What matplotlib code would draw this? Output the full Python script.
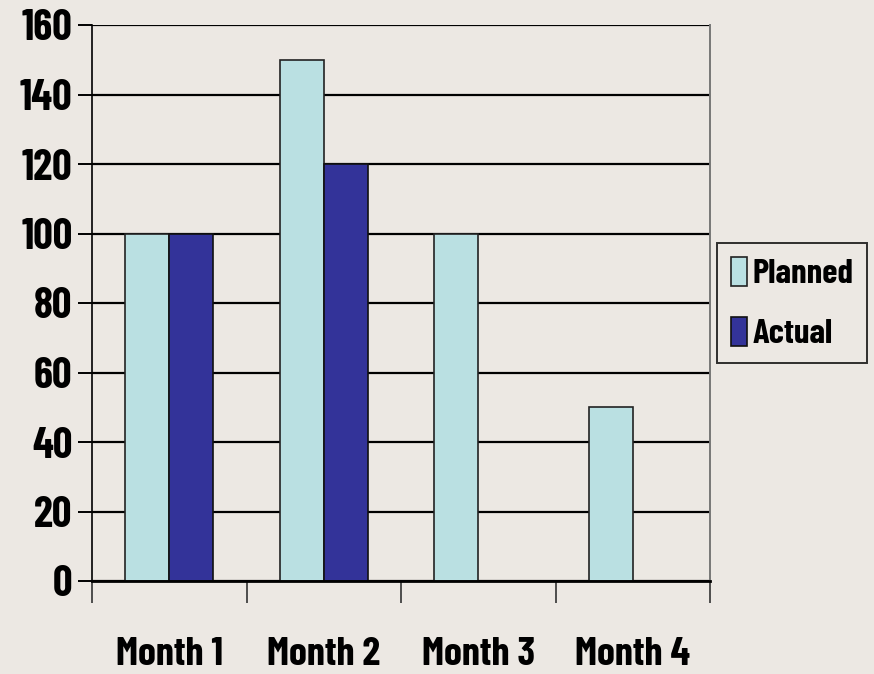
import matplotlib
matplotlib.use("Agg")
import matplotlib.pyplot as plt
import numpy as np

months = ["Month 1", "Month 2", "Month 3", "Month 4"]
planned = [100, 150, 100, 50]
actual = [100, 120, 0, 0]
yticks = [0, 20, 40, 60, 80, 100, 120, 140, 160]

bg = "#ECE8E3"
plt.rcParams['font.family'] = ['Barlow Condensed', 'Roboto Condensed', 'DejaVu Sans']
plt.rcParams['font.weight'] = 'bold'

fig = plt.figure(figsize=(8.74, 6.74), dpi=100, facecolor=bg)
ax = fig.add_axes([92/874, 1 - 581/674, (710 - 92)/874, (581 - 25)/674])
ax.set_facecolor(bg)

x = np.arange(len(months))
w = 0.285
ax.set_axisbelow(True)
ax.yaxis.grid(True, color="black", linewidth=1.6)
ax.bar(x - w/2, planned, w, color="#BAE0E2", edgecolor="#222222", linewidth=1.2, label="Planned")
act = [a if a > 0 else np.nan for a in actual]
ax.bar(x + w/2, act, w, color="#333399", edgecolor="#111111", linewidth=1.2, label="Actual")

ax.set_xlim(-0.5, len(months) - 0.5)
ax.set_ylim(0, 160)
ax.set_yticks(yticks)
ax.set_yticklabels([str(v) for v in yticks], fontsize=31, fontweight='bold')
ax.tick_params(axis='y', length=10, width=1.4, pad=4)

ax.set_xticks(x)
ax.set_xticklabels(months, fontsize=29, fontweight='bold')
ax.tick_params(axis='x', length=0, pad=40)
ax.set_xticks(np.arange(len(months) + 1) - 0.5, minor=True)
ax.tick_params(axis='x', which='minor', length=16, width=1.2, color="#333333")

ax.spines["top"].set_visible(False)
ax.spines["right"].set_color("#777777")
ax.spines["right"].set_linewidth(1.4)
ax.spines["left"].set_linewidth(1.2)
ax.spines["bottom"].set_linewidth(2)

leg = fig.legend(loc="center right", bbox_to_anchor=(867/874, 1 - 303/674),
                 fontsize=25, frameon=True, fancybox=False, edgecolor="black",
                 facecolor=bg, handlelength=0.47, handleheight=0.9,
                 handletextpad=0.15, borderpad=0.4, labelspacing=0.8,
                 borderaxespad=0)
leg.get_frame().set_linewidth(1.4)
for t in leg.get_texts():
    t.set_fontweight('bold')

fig.savefig("out.png", dpi=100, facecolor=bg)
